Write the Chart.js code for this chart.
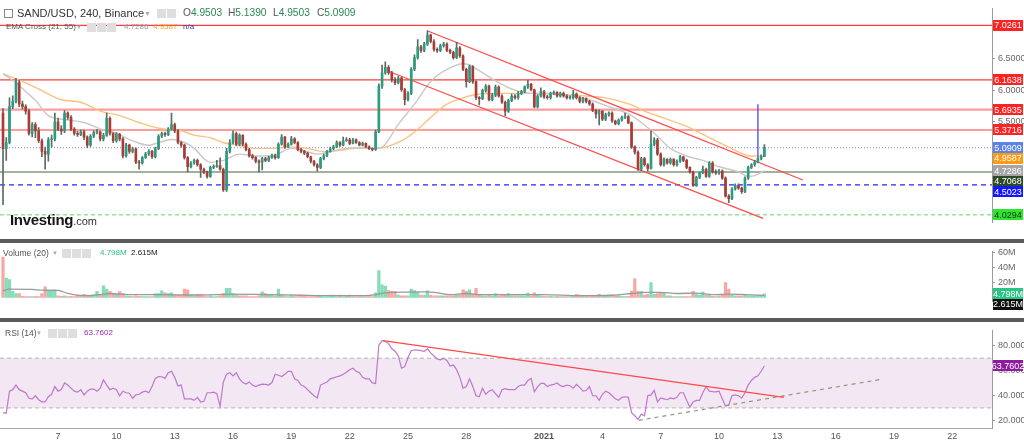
<!DOCTYPE html>
<html lang="en">
<head>
<meta charset="UTF-8">
<title>SAND/USD, 240, Binance</title>
<script src="https://cdn.jsdelivr.net/npm/chart.js"></script>
<style>
  body { margin: 0; background: #fff; font-family: "Liberation Sans", Arial, sans-serif; }
  #wrap { position: relative; width: 1024px; height: 445px; overflow: hidden; background: #fff; }
  .pane { position: absolute; left: 0; width: 1024px; }
  .sep { position: absolute; left: 0; width: 1024px; height: 4px; background: #5b5b5b; }
  .lbl { position: absolute; white-space: nowrap; line-height: 1; }
  .ic { position: absolute; width: 9px; height: 9px; background: #dedede; }
</style>
</head>
<body>
<div id="wrap">
  <div class="pane" style="top:0;height:239px"><canvas id="cMain"></canvas></div>
  <div class="sep" style="top:239px"></div>
  <div class="pane" style="top:243px;height:75px"><canvas id="cVol"></canvas></div>
  <div class="sep" style="top:318px"></div>
  <div class="pane" style="top:322px;height:123px"><canvas id="cRsi"></canvas></div>

  <!-- header, main pane -->
  <div class="lbl" style="left:4px;top:9px;width:7px;height:7px;border:1px solid #888"></div>
  <div class="lbl" style="left:17px;top:8px;font-size:11px;color:#333">SAND/USD, 240, Binance</div>
  <div class="lbl" style="left:144px;top:10px;font-size:7px;color:#aaa">&#9660;</div>
  <div class="ic" style="left:157px;top:9px"></div><div class="ic" style="left:167px;top:9px"></div>
  <div class="lbl" style="left:183px;top:8px;font-size:10.2px;color:#555">O<span style="color:#2b8753">4.9503</span></div>
  <div class="lbl" style="left:228px;top:8px;font-size:10.2px;color:#555">H<span style="color:#2b8753">5.1390</span></div>
  <div class="lbl" style="left:273px;top:8px;font-size:10.2px;color:#555">L<span style="color:#2b8753">4.9503</span></div>
  <div class="lbl" style="left:317px;top:8px;font-size:10.2px;color:#555">C<span style="color:#2b8753">5.0909</span></div>

  <div class="lbl" style="left:6px;top:23px;font-size:8px;color:#555">EMA Cross (21, 55)</div>
  <div class="lbl" style="left:76px;top:24px;font-size:6px;color:#aaa">&#9660;</div>
  <div class="ic" style="left:87px;top:23px"></div><div class="ic" style="left:97px;top:23px"></div><div class="ic" style="left:107px;top:23px"></div>
  <div class="lbl" style="left:124px;top:23px;font-size:8px;color:#9a9a9a">4.7286</div>
  <div class="lbl" style="left:153px;top:23px;font-size:8px;color:#f5a030">4.9587</div>
  <div class="lbl" style="left:183px;top:23px;font-size:8px;color:#3535a8">n/a</div>

  <div class="lbl" style="left:10px;top:212px;font-size:15px;font-weight:bold;color:#151515;letter-spacing:-0.3px">Investing<span style="font-size:11px;font-weight:normal;color:#333;letter-spacing:0">.com</span></div>

  <!-- header, volume pane -->
  <div class="lbl" style="left:3px;top:249px;font-size:8.5px;color:#555">Volume (20)</div>
  <div class="lbl" style="left:52px;top:250px;font-size:6px;color:#aaa">&#9660;</div>
  <div class="ic" style="left:62px;top:249px"></div><div class="ic" style="left:72px;top:249px"></div><div class="ic" style="left:82px;top:249px"></div>
  <div class="lbl" style="left:100px;top:249px;font-size:8px;color:#2bbf80">4.798M</div>
  <div class="lbl" style="left:131px;top:249px;font-size:8px;color:#222">2.615M</div>

  <!-- header, RSI pane -->
  <div class="lbl" style="left:5px;top:329px;font-size:8.5px;color:#555">RSI (14)</div>
  <div class="lbl" style="left:36px;top:330px;font-size:6px;color:#aaa">&#9660;</div>
  <div class="ic" style="left:48px;top:329px"></div><div class="ic" style="left:58px;top:329px"></div><div class="ic" style="left:68px;top:329px"></div>
  <div class="lbl" style="left:84px;top:329px;font-size:8px;color:#9c27b0">63.7602</div>
</div>

<script>
// ---- data (4h candles) ----
const firstOpen = 5.64;
const closes = [
  5.075, 5.174, 5.740, 5.825, 6.122, 5.782, 5.740, 5.669, 5.316, 5.457,
  5.358, 5.202, 5.033, 4.990, 5.217, 5.230, 5.500, 5.386, 5.358, 5.641,
  5.570, 5.386, 5.316, 5.301, 5.344, 5.259, 5.132, 5.273, 5.330, 5.344,
  5.230, 5.287, 5.556, 5.316, 5.202, 5.301, 5.230, 4.962, 5.132, 5.033,
  5.075, 4.863, 4.849, 4.934, 4.990, 5.033, 4.948, 5.075, 5.273, 5.316,
  5.301, 5.386, 5.457, 5.358, 5.174, 5.132, 4.934, 4.793, 4.849, 4.892,
  4.821, 4.750, 4.708, 4.637, 4.779, 4.793, 4.807, 4.750, 4.425, 5.033,
  5.174, 5.316, 5.146, 5.287, 5.146, 5.061, 4.962, 4.934, 4.877, 4.863,
  4.920, 4.892, 4.934, 4.962, 4.934, 5.146, 5.259, 5.104, 5.146, 5.230,
  5.174, 5.061, 5.033, 5.005, 4.948, 4.877, 4.821, 4.779, 4.920, 4.962,
  5.033, 5.075, 5.104, 5.174, 5.132, 5.202, 5.217, 5.160, 5.217, 5.174,
  5.132, 5.160, 5.104, 5.075, 5.061, 5.344, 6.065, 6.277, 6.362, 6.277,
  6.164, 6.122, 6.192, 6.008, 5.853, 5.952, 6.333, 6.517, 6.687, 6.630,
  6.730, 6.871, 6.772, 6.645, 6.630, 6.701, 6.730, 6.630, 6.602, 6.517,
  6.673, 6.546, 6.333, 6.136, 6.376, 6.136, 5.881, 5.867, 5.994, 6.065,
  5.853, 5.923, 6.051, 5.909, 5.810, 5.669, 5.839, 5.909, 5.881, 5.952,
  5.980, 6.051, 6.093, 6.008, 5.740, 5.909, 5.980, 5.895, 5.881, 5.952,
  5.966, 5.909, 5.952, 5.909, 5.881, 5.881, 5.938, 5.881, 5.825, 5.867,
  5.825, 5.782, 5.683, 5.627, 5.669, 5.542, 5.613, 5.641, 5.514, 5.471,
  5.528, 5.570, 5.585, 5.485, 5.104, 5.019, 4.750, 4.920, 4.821, 4.765,
  5.146, 5.217, 4.990, 4.821, 4.906, 4.849, 4.906, 4.821, 4.877, 4.948,
  4.892, 4.779, 4.708, 4.496, 4.623, 4.694, 4.750, 4.637, 4.849, 4.708,
  4.694, 4.722, 4.609, 4.326, 4.284, 4.439, 4.496, 4.453, 4.397, 4.609,
  4.779, 4.821, 4.863, 4.920, 4.9503, 5.0909
];
const highs = [
  5.71, 5.25, 5.88, 5.91, 6.19, 6.16, 5.83, 5.77, 5.70, 5.49,
  5.49, 5.41, 5.23, 5.10, 5.25, 5.29, 5.64, 5.56, 5.44, 5.68,
  5.66, 5.60, 5.41, 5.35, 5.37, 5.37, 5.28, 5.30, 5.36, 5.38,
  5.36, 5.32, 5.64, 5.58, 5.33, 5.33, 5.32, 5.25, 5.16, 5.15,
  5.10, 5.09, 4.89, 4.95, 5.02, 5.06, 5.05, 5.10, 5.30, 5.34,
  5.34, 5.41, 5.64, 5.48, 5.38, 5.19, 5.15, 4.95, 4.87, 4.91,
  4.91, 4.84, 4.77, 4.72, 4.80, 4.82, 4.89, 4.93, 4.77, 5.08,
  5.22, 5.36, 5.34, 5.31, 5.30, 5.17, 5.08, 4.99, 4.95, 4.90,
  4.94, 4.94, 4.96, 4.99, 4.99, 5.17, 5.30, 5.27, 5.17, 5.27,
  5.25, 5.19, 5.08, 5.05, 5.02, 4.96, 4.89, 4.84, 4.94, 4.99,
  5.05, 5.10, 5.13, 5.20, 5.19, 5.26, 5.25, 5.24, 5.24, 5.23,
  5.19, 5.18, 5.17, 5.12, 5.09, 5.37, 6.10, 6.40, 6.45, 6.39,
  6.30, 6.20, 6.22, 6.21, 6.03, 5.98, 6.36, 6.56, 6.80, 6.71,
  6.76, 6.94, 6.89, 6.80, 6.67, 6.73, 6.76, 6.75, 6.65, 6.62,
  6.76, 6.69, 6.56, 6.35, 6.40, 6.39, 6.15, 5.90, 6.02, 6.09,
  6.08, 5.95, 6.08, 6.07, 5.93, 5.83, 5.86, 5.94, 5.93, 5.98,
  6.00, 6.07, 6.16, 6.11, 6.02, 5.93, 6.04, 6.00, 5.92, 5.97,
  5.99, 5.98, 5.97, 5.97, 5.93, 5.91, 6.00, 5.96, 5.90, 5.89,
  5.88, 5.84, 5.80, 5.70, 5.69, 5.68, 5.64, 5.66, 5.66, 5.53,
  5.55, 5.59, 5.64, 5.60, 5.50, 5.12, 5.04, 4.94, 4.94, 4.84,
  5.36, 5.25, 5.24, 5.01, 4.93, 4.92, 4.93, 4.92, 4.90, 4.97,
  4.96, 4.91, 4.79, 4.72, 4.64, 4.71, 4.80, 4.77, 4.87, 4.87,
  4.74, 4.75, 4.74, 4.63, 4.35, 4.46, 4.52, 4.52, 4.47, 4.63,
  4.80, 4.84, 4.89, 4.95, 4.98, 5.139
];
const lows = [
  4.19, 4.89, 5.15, 5.71, 5.80, 5.74, 5.70, 5.62, 5.29, 5.26,
  5.25, 5.17, 4.95, 4.75, 4.88, 5.10, 5.20, 5.36, 5.30, 5.33,
  5.54, 5.36, 5.29, 5.27, 5.28, 5.22, 5.09, 5.11, 5.25, 5.31,
  5.20, 5.20, 5.27, 5.29, 5.17, 5.18, 5.20, 4.93, 4.94, 5.00,
  5.01, 4.84, 4.75, 4.83, 4.92, 4.97, 4.92, 4.93, 5.06, 5.25,
  5.27, 5.28, 5.37, 5.33, 5.15, 5.10, 4.91, 4.71, 4.77, 4.83,
  4.80, 4.62, 4.68, 4.61, 4.62, 4.76, 4.78, 4.73, 4.40, 4.40,
  5.01, 5.15, 5.12, 5.12, 5.12, 5.04, 4.94, 4.91, 4.85, 4.71,
  4.74, 4.87, 4.87, 4.92, 4.91, 4.92, 5.13, 5.08, 5.09, 5.13,
  5.15, 5.04, 5.01, 4.98, 4.93, 4.85, 4.80, 4.72, 4.76, 4.90,
  4.95, 5.02, 5.06, 5.09, 5.11, 5.12, 5.19, 5.14, 5.15, 5.16,
  5.12, 5.12, 5.09, 5.06, 5.04, 5.05, 5.33, 6.03, 6.25, 6.25,
  6.13, 6.09, 6.10, 5.98, 5.77, 5.83, 5.93, 6.31, 6.49, 6.60,
  6.61, 6.71, 6.75, 6.62, 6.60, 6.61, 6.68, 6.61, 6.58, 6.49,
  6.50, 6.52, 6.31, 6.05, 6.12, 6.11, 5.85, 5.77, 5.85, 5.97,
  5.83, 5.83, 5.90, 5.89, 5.79, 5.60, 5.65, 5.82, 5.86, 5.86,
  5.93, 5.96, 6.03, 5.99, 5.72, 5.72, 5.89, 5.87, 5.86, 5.86,
  5.93, 5.89, 5.89, 5.89, 5.86, 5.86, 5.86, 5.86, 5.80, 5.80,
  5.80, 5.76, 5.66, 5.56, 5.45, 5.52, 5.52, 5.59, 5.49, 5.45,
  5.45, 5.51, 5.55, 5.47, 5.08, 4.99, 4.73, 4.73, 4.80, 4.72,
  4.75, 5.12, 4.97, 4.80, 4.80, 4.83, 4.83, 4.80, 4.80, 4.86,
  4.87, 4.76, 4.69, 4.48, 4.48, 4.60, 4.68, 4.62, 4.62, 4.69,
  4.67, 4.67, 4.59, 4.31, 4.22, 4.27, 4.42, 4.43, 4.37, 4.38,
  4.59, 4.76, 4.80, 4.85, 4.90, 4.9503
];
// volume, millions
const volumes = [
  54, 26, 24, 8, 5, 5, 1.5, 1, 1.2, 1,
  1.5, 1.2, 5, 14, 9, 9, 10, 2, 1.5, 2,
  1, 1.5, 1.2, 3, 2, 4, 3, 2, 2, 8,
  4, 15.5, 11, 8, 5, 4, 7.6, 5, 2, 1.5,
  1, 2, 1.5, 1, 1.2, 1, 1, 5, 5, 8.7,
  6, 5, 6, 3, 3, 2, 11, 10, 3, 2,
  4, 4, 2, 1, 2, 1, 1, 2, 5, 12,
  12, 5, 3, 2, 2, 2, 1, 1, 1, 2,
  7.5, 5, 3, 3, 2, 11, 3, 2, 1, 3,
  1, 1, 2, 1.5, 1, 1.2, 1, 2, 1.5, 1,
  1, 3, 3, 1, 3, 1, 2, 3, 1, 1,
  1, 1, 1, 1, 1, 6, 36, 17, 15, 9,
  8, 8, 3, 2, 2, 2, 11, 9, 7, 3,
  3, 8.7, 3, 2, 2, 2, 2, 2, 2, 2,
  3, 3, 10, 8, 10, 4, 12, 3, 2, 2,
  4, 2, 5, 2, 4, 4, 5, 2, 2, 2,
  2, 2, 5.8, 2, 6, 3, 2, 1.5, 1.2, 1.5,
  1, 1.5, 1.2, 1, 1, 1, 2, 4, 3, 2,
  2, 1, 2, 2, 4, 2, 3, 3, 3, 2,
  2, 1.5, 1, 1.5, 8.4, 25, 8, 8, 3, 4,
  20, 4, 5, 6, 6, 2, 2, 1, 1, 1,
  1, 1.2, 1, 8, 4, 3, 7, 3, 3, 1.5,
  1, 2, 3, 20, 11, 3, 2, 2, 2, 3,
  2, 2, 2, 3, 3, 4.798
];
const rsi = [
  26.2, 25.7, 43.5, 44.7, 48.4, 44.7, 43.5, 42.2, 37.8, 37.3,
  39.8, 36.6, 34.8, 34.8, 39.0, 41.0, 47.2, 43.5, 44.7, 50.1,
  48.4, 45.9, 43.5, 42.7, 44.7, 40.5, 43.5, 45.2, 45.2, 43.5,
  45.9, 52.6, 48.4, 44.7, 45.9, 44.7, 39.8, 43.5, 42.2, 41.8,
  37.8, 40.5, 41.0, 42.7, 43.5, 42.2, 47.2, 53.8, 55.3, 55.1,
  53.8, 58.3, 59.5, 54.6, 47.7, 48.4, 37.3, 37.3, 37.3, 36.1,
  38.5, 34.8, 35.3, 42.2, 42.2, 42.7, 41.5, 31.1, 50.9, 57.1,
  58.3, 55.8, 58.3, 53.4, 50.4, 49.2, 50.9, 48.4, 47.2, 48.4,
  49.2, 49.0, 48.4, 50.4, 57.1, 56.3, 55.3, 57.1, 59.5, 59.5,
  53.4, 52.1, 48.4, 47.2, 44.7, 42.2, 39.8, 38.0, 48.4, 49.7,
  50.9, 53.4, 54.2, 55.1, 55.8, 57.1, 58.8, 60.8, 62.0, 59.5,
  58.3, 54.6, 53.4, 53.4, 50.1, 49.7, 80.5, 84.2, 83.5, 81.8,
  77.6, 75.6, 71.9, 62.0, 63.2, 70.6, 76.1, 76.8, 76.6, 76.1,
  75.6, 77.6, 74.3, 71.8, 69.4, 68.7, 69.9, 68.2, 63.7, 64.5,
  60.8, 54.6, 45.9, 47.2, 53.4, 47.2, 39.8, 39.0, 45.9, 41.0,
  43.5, 44.7, 41.5, 38.5, 44.7, 45.5, 44.7, 44.7, 44.7, 47.2,
  48.4, 48.4, 52.1, 53.8, 43.0, 47.2, 49.7, 49.7, 47.2, 48.4,
  48.9, 50.1, 47.9, 47.2, 48.4, 47.9, 45.9, 48.9, 46.5, 43.5,
  44.0, 47.2, 39.8, 39.8, 36.1, 41.0, 43.5, 42.2, 39.8, 37.3,
  36.1, 38.5, 39.0, 38.5, 26.2, 23.7, 20.8, 25.0, 23.7, 39.8,
  40.5, 44.2, 34.8, 38.0, 37.3, 36.6, 38.0, 37.3, 38.5, 42.2,
  42.2, 36.1, 30.6, 34.8, 36.1, 36.1, 42.2, 47.2, 43.5, 43.2,
  43.0, 43.5, 37.3, 31.6, 32.4, 39.8, 40.5, 39.8, 38.0, 42.2,
  48.4, 52.1, 54.6, 55.8, 59.5, 63.7602
];

// EMA lines read at sample candles
const ema21Idx = [0, 4, 7, 10, 14, 20, 25, 30, 35, 40, 45, 48, 52, 57, 59, 64, 68, 73, 78, 83, 89, 92, 97, 101, 106, 111, 115, 117, 122, 127, 132, 137, 142, 144, 147, 153, 157, 163, 168, 175, 181, 187, 194, 197, 201, 206, 211, 216, 221, 227, 230, 232, 235];
const ema21Val = [6.26, 6.12, 5.98, 5.84, 5.60, 5.53, 5.49, 5.39, 5.32, 5.20, 5.13, 5.17, 5.22, 5.15, 5.08, 4.86, 4.89, 4.99, 4.96, 4.96, 5.08, 5.06, 4.99, 5.03, 5.08, 5.09, 5.08, 5.10, 5.46, 5.78, 6.14, 6.33, 6.42, 6.40, 6.31, 6.12, 6.02, 5.95, 5.95, 5.92, 5.85, 5.74, 5.60, 5.49, 5.32, 5.08, 4.96, 4.89, 4.79, 4.71, 4.64, 4.65, 4.7286];
const ema55Idx = [0, 5, 11, 18, 24, 30, 36, 42, 48, 55, 59, 64, 68, 73, 78, 83, 89, 94, 99, 104, 109, 115, 123, 127, 132, 137, 142, 147, 153, 163, 176, 186, 194, 198, 204, 211, 218, 224, 231, 235];
const ema55Val = [6.26, 6.16, 6.02, 5.85, 5.81, 5.67, 5.60, 5.49, 5.40, 5.36, 5.29, 5.25, 5.17, 5.13, 5.08, 5.08, 5.10, 5.08, 5.03, 5.05, 5.08, 5.08, 5.20, 5.34, 5.57, 5.78, 5.88, 5.94, 5.95, 5.95, 5.92, 5.88, 5.77, 5.67, 5.56, 5.43, 5.25, 5.10, 4.96, 4.9587];
const volMaIdx = [0, 2, 9, 12, 17, 20, 25, 30, 33, 40, 51, 56, 66, 71, 82, 92, 102, 112, 115, 118, 131, 133, 138, 143, 148, 157, 167, 178, 188, 194, 198, 203, 208, 214, 219, 224, 229, 235];
const volMaVal = [8.7, 11, 10.6, 9.6, 9.5, 5.2, 2.2, 3.7, 5.2, 3.7, 3.7, 3.2, 3.7, 4.3, 3.7, 2.8, 2.2, 2.2, 3.7, 6.1, 7.3, 6.7, 3.7, 5.2, 3.7, 3.7, 3.7, 2.2, 2.8, 5.2, 6.7, 6.7, 5.2, 5.8, 3.7, 4.3, 3.7, 2.615];

// drawn levels and trend lines
const levels = [7.0261, 6.1638, 5.6935, 5.3716, 5.0909, 4.7068, 4.5023, 4.0294];
const chanUpX = [130.9, 246.9], chanUpY = [6.942, 4.581];
const chanLoX = [118.8, 234.6], chanLoY = [6.305, 3.973];
const spikeX = [233, 233], spikeY = [4.96, 5.78];
const rsiDownX = [117.3, 241], rsiDownY = [84.2, 38.5];
const rsiUpX = [196.2, 270.8], rsiUpY = [20.0, 52.9];
const rsiBand = [70, 30];

// axes
const tickIdx = [17, 35, 53, 71, 89, 107, 125, 143, 167, 185, 203, 221, 239, 257, 275, 293];
const tickText = ['7', '10', '13', '16', '19', '22', '25', '28', '2021', '4', '7', '10', '13', '16', '19', '22'];
const priceTicks = [6.5, 6.0, 5.5];
const volTicks = [20, 40, 60];
const rsiTicks = [20, 40, 60, 80];
const priceTagVals = [7.0261, 6.1638, 5.6935, 5.3716, 5.0909, 4.9587, 4.7286, 4.7068, 4.5023, 4.0294];
const volTagVals = [4.798, 2.615];
const rsiTagVals = [63.7602];

// ---- drawing ----
const X_MIN = -0.93, X_MAX = 305.25;
const UP = '#2a9c80', DN = '#ad3a34', WICK = '#5b6a62';
const idx = closes.map((_, i) => i);
const opens = [firstOpen].concat(closes.slice(0, -1));
const isUp = i => closes[i] >= opens[i];

Chart.defaults.font.family = '"Liberation Sans", Arial, sans-serif';
Chart.defaults.font.size = 9;
Chart.defaults.color = '#555';
Chart.defaults.animation = false;

function pts(xs, ys) { return xs.map((x, k) => ({ x: x, y: ys[k] })); }
function flat(v) { return [{ x: X_MIN, y: v }, { x: X_MAX, y: v }]; }
function line(data, color, width, dash, extra) {
  return Object.assign({ type: 'line', data: data, borderColor: color, borderWidth: width,
    borderDash: dash || [], pointRadius: 0, fill: false, cubicInterpolationMode: 'monotone' }, extra || {});
}

function xScale(show) {
  return {
    type: 'linear', min: X_MIN, max: X_MAX, display: show, offset: false,
    afterBuildTicks: s => { s.ticks = tickIdx.map(v => ({ value: v })); },
    afterFit: s => { s.height = 17; s.paddingLeft = 0; s.paddingRight = 0; },
    ticks: {
      autoSkip: false, maxRotation: 0, padding: 3, color: '#555',
      callback: v => tickText[tickIdx.indexOf(v)],
      font: ctx => ({ size: 9, weight: (ctx.tick && ctx.tick.value === 167) ? 'bold' : 'normal' })
    },
    grid: { drawOnChartArea: false, drawTicks: false, offset: false },
    border: { display: true, color: '#a8a8a8' }
  };
}
function yScale(min, max, ticks, fmt) {
  return {
    position: 'right', min: min, max: max,
    afterBuildTicks: s => { s.ticks = ticks.map(v => ({ value: v })); },
    afterFit: s => { s.width = 32; },
    ticks: { callback: fmt, padding: 3, color: '#666', font: { size: 9 } },
    grid: { drawOnChartArea: false, drawTicks: true, tickLength: 3, color: '#999' },
    border: { display: true, color: '#9a9a9a' }
  };
}

// coloured value boxes on the right axis
const tagPlugin = {
  id: 'tags',
  afterDraw(chart, args, opts) {
    const ys = chart.scales.y, ctx = chart.ctx, area = chart.chartArea;
    const list = opts.items.map(t => Object.assign({}, t, { py: ys.getPixelForValue(t.value) }))
      .sort((a, b) => a.py - b.py);
    let last = -99;
    ctx.save();
    ctx.font = '9px "Liberation Sans", Arial, sans-serif';
    ctx.textAlign = 'center';
    ctx.textBaseline = 'middle';
    list.forEach(t => {
      const y = Math.max(t.py, last + 10.5);
      last = y;
      ctx.fillStyle = t.bg;
      ctx.fillRect(area.right + 1, Math.round(y - 5.5), 30, 11);
      ctx.fillStyle = t.fg || '#fff';
      ctx.fillText(t.text, area.right + 16, Math.round(y) + 0.5);
    });
    ctx.restore();
  }
};

const baseOpts = {
  responsive: true, maintainAspectRatio: false, events: [],
  layout: { padding: 0, autoPadding: false },
  plugins: { legend: { display: false }, tooltip: { enabled: false } }
};

// main price pane
const priceTagStyle = ['#ff2222', '#ff2222', '#ff2222', '#ff2222', '#5b83e8', '#ff9a14', '#a6a6a6', '#2d4b27', '#1818ff', '#2ee62e'];
new Chart(document.getElementById('cMain'), {
  type: 'bar',
  data: { datasets: [
    { label: 'body', data: idx.map(i => ({ x: i, y: [opens[i], closes[i]] })),
      backgroundColor: c => isUp(c.dataIndex) ? UP : DN, barThickness: 2, grouped: false, minBarLength: 1 },
    { label: 'wick', data: idx.map(i => ({ x: i, y: [lows[i], highs[i]] })),
      backgroundColor: WICK, barThickness: 1, grouped: false },
    line(pts(spikeX, spikeY), '#4646ff', 1.3),
    line(pts(chanUpX, chanUpY), '#ff4a4a', 1.2),
    line(pts(chanLoX, chanLoY), '#ff4a4a', 1.2),
    line(pts(ema21Idx, ema21Val), '#c9c9c9', 1.4),
    line(pts(ema55Idx, ema55Val), '#fcc27f', 1.4),
    line(flat(levels[0]), '#ff3b3b', 1.2),
    line(flat(levels[1]), '#ff3b3b', 1.2),
    line(flat(levels[2]), '#ff9c9c', 2.2),
    line(flat(levels[3]), '#ff3b3b', 1.2),
    line(flat(levels[4]), '#6a8cf0', 1, [1, 2]),
    line(flat(levels[5]), '#a2b29a', 2),
    line(flat(levels[6]), '#2424ff', 1.2, [5, 4]),
    line(flat(levels[7]), '#5ade5a', 1, [4, 3])
  ] },
  options: Object.assign({}, baseOpts, {
    scales: {
      x: xScale(false),
      y: yScale(3.916, 7.295, priceTicks, v => v.toFixed(4))
    },
    plugins: Object.assign({}, baseOpts.plugins, {
      tags: { items: priceTagVals.map((v, k) => ({ value: v, text: v.toFixed(4), bg: priceTagStyle[k], fg: k === 9 ? '#153015' : '#fff' })) }
    })
  }),
  plugins: [tagPlugin]
});

// volume pane
new Chart(document.getElementById('cVol'), {
  type: 'bar',
  data: { datasets: [
    line(pts(volMaIdx, volMaVal), '#9a9a9a', 1.3),
    { label: 'vol', data: idx.map(i => ({ x: i, y: volumes[i] })),
      backgroundColor: c => isUp(c.dataIndex) ? '#86dcb6' : '#f6a8a4', barThickness: 2.6, grouped: false }
  ] },
  options: Object.assign({}, baseOpts, {
    scales: {
      x: xScale(false),
      y: yScale(-4.9, 61.8, volTicks, v => v + 'M')
    },
    plugins: Object.assign({}, baseOpts.plugins, {
      tags: { items: [
        { value: volTagVals[0], text: volTagVals[0].toFixed(3) + 'M', bg: '#2bc487' },
        { value: volTagVals[1], text: volTagVals[1].toFixed(3) + 'M', bg: '#111' }
      ] }
    })
  }),
  plugins: [tagPlugin]
});

// RSI pane
new Chart(document.getElementById('cRsi'), {
  type: 'line',
  data: { datasets: [
    line(pts(rsiDownX, rsiDownY), '#ff4a4a', 1.2),
    line(pts(rsiUpX, rsiUpY), '#8a9878', 1.2, [4, 4]),
    line(idx.map(i => ({ x: i, y: rsi[i] })), '#be78cc', 1.2, [], { cubicInterpolationMode: 'default', tension: 0 }),
    line(flat(rsiBand[0]), '#b4b4b4', 1, [4, 3]),
    line(flat(rsiBand[1]), '#b4b4b4', 1, [4, 3], { fill: '-1', backgroundColor: 'rgba(175, 110, 185, 0.17)' })
  ] },
  options: Object.assign({}, baseOpts, {
    scales: {
      x: xScale(true),
      y: yScale(13.85, 92.4, rsiTicks, v => v.toFixed(4))
    },
    plugins: Object.assign({}, baseOpts.plugins, {
      tags: { items: [{ value: rsiTagVals[0], text: rsiTagVals[0].toFixed(4), bg: '#8e1c9c' }] }
    })
  }),
  plugins: [tagPlugin]
});
</script>
</body>
</html>
